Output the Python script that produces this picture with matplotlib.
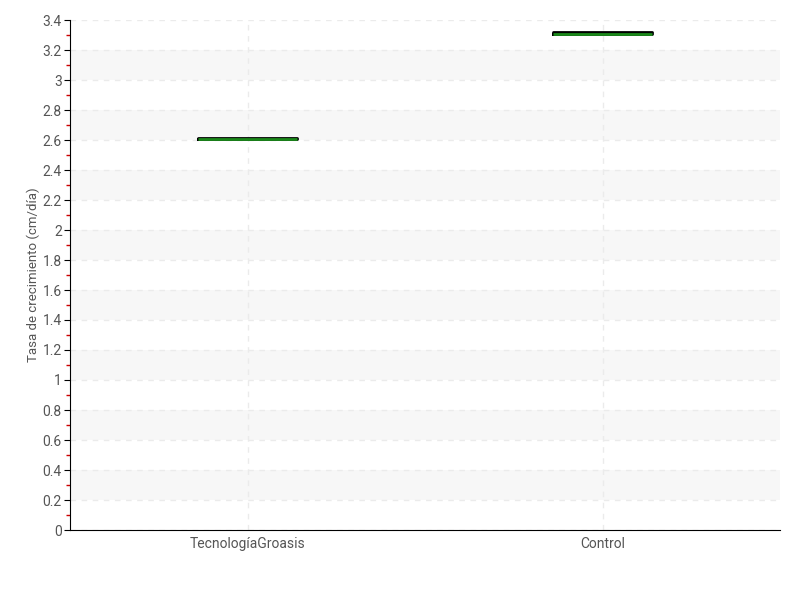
import matplotlib
matplotlib.use("Agg")
import matplotlib.pyplot as plt
from matplotlib.ticker import MultipleLocator, FuncFormatter

categorias = ["TecnologíaGroasis", "Control"]
q1 = [2.605, 3.305]
mediana = [2.61, 3.31]
q3 = [2.615, 3.32]

plt.rcParams['font.family'] = ['Roboto', 'DejaVu Sans']

fig = plt.figure(figsize=(8, 6), dpi=100)
ax = fig.add_axes([70/800, 1-530/600, 710/800, 510/600])

# bandas alternas
y = 0.2
while y < 3.4:
    ax.axhspan(y, y+0.2, color='#f7f7f7', zorder=0, lw=0)
    y += 0.4

stats = []
for i in range(len(categorias)):
    stats.append(dict(med=mediana[i], q1=q1[i], q3=q3[i], whislo=q1[i], whishi=q3[i], fliers=[]))
ax.bxp(stats, positions=range(len(categorias)), widths=0.28, showcaps=False,
       boxprops=dict(color='black', linewidth=2),
       medianprops=dict(color='#1a8a1a', linewidth=2),
       whiskerprops=dict(color='black', linewidth=1))

ax.set_xlim(-0.5, 1.5)
ax.set_ylim(0, 3.4)
ax.set_xticks(range(len(categorias)))
ax.set_xticklabels(categorias)
ax.yaxis.set_major_locator(MultipleLocator(0.2))
ax.yaxis.set_minor_locator(MultipleLocator(0.1))
ax.yaxis.set_major_formatter(FuncFormatter(lambda v, p: "%g" % round(v, 1)))
ax.tick_params(axis='y', which='minor', color='#cc0000', length=3, width=1)
ax.tick_params(axis='y', which='major', length=4, color='black', pad=2)
ax.tick_params(axis='both', which='major', labelsize=10, labelcolor='#555555')
ax.tick_params(axis='x', length=0, pad=5)
ax.grid(True, which='major', linestyle=(0, (4, 4)), color='#ebebeb', linewidth=1)
ax.set_axisbelow(True)
for s in ['top', 'right']:
    ax.spines[s].set_visible(False)
ax.set_ylabel("Tasa de crecimiento (cm/día)", fontsize=9.5, color='#555555')
ax.yaxis.set_label_coords(-0.042, 0.5)

fig.savefig("out.png", dpi=100)
